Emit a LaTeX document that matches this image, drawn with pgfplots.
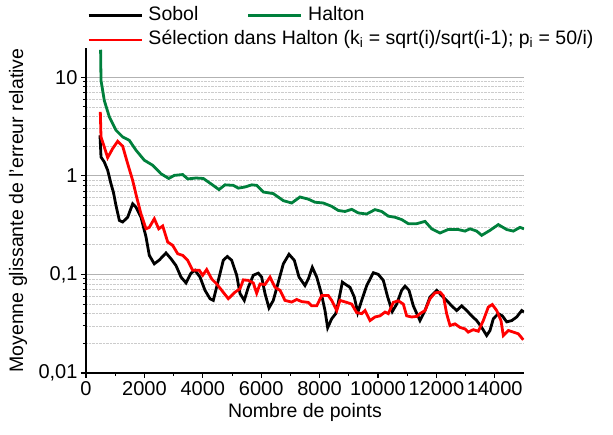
\documentclass[border=0pt]{standalone}
\usepackage{pgfplots}
\pgfplotsset{compat=1.18}
\usepackage{fontspec}
\setmainfont{Liberation Sans}
\definecolor{hgreen}{RGB}{0,128,60}

\begin{document}
\begin{tikzpicture}[font=\fontsize{19.5}{23}\selectfont]
\begin{axis}[
    at={(0,0)}, anchor=south west,
    scale only axis, width=438pt, height=325pt,
    ymode=log,
    xmin=0, xmax=15000, ymin=0.01, ymax=19.8,
    axis x line*=bottom, axis y line*=left,
    axis line style={line width=1.5pt},
    tick align=outside,
    major tick length=5pt, minor tick length=3pt,
    major tick style={line width=1.2pt, black},
    minor tick style={line width=1pt, black},
    tick label style={font=\fontsize{20}{24}\selectfont},
    xtick={0,2000,...,14000}, minor x tick num=1,
    ytick={0.01,0.1,1,10}, yticklabels={{0,01},{0,1},1,10},
    /pgf/number format/assume math mode=true,
    /pgf/number format/1000 sep={},
    scaled x ticks=false,
    ymajorgrids, yminorgrids,
    major grid style={gray!60, line width=0.8pt},
    minor grid style={gray!40, densely dotted, line width=0.7pt},
    xlabel={Nombre de points},
    ylabel={Moyenne glissante de l'erreur relative},
    every axis x label/.style={at={(axis description cs:0.5,0)}, anchor=center, yshift=-39pt},
    every axis y label/.style={at={(axis description cs:0,0.5)}, xshift=-68pt, rotate=90, anchor=center},
    legend columns=2,
    legend cell align=left,
    legend image code/.code={\draw[#1] (0pt,0pt) -- (53pt,0pt);},
    legend style={at={(axis description cs:0,1)}, anchor=south west,
        draw=none, fill=none, inner sep=0pt, xshift=1pt, yshift=-3pt,
        column sep=4pt, row sep=3pt,
        nodes={text height=14pt, text depth=4.5pt, inner sep=1.5pt},
        /tikz/every even column/.append style={column sep=47pt}},
]
\addplot[black, line width=2.8pt] coordinates {
(479,2.58) (514,1.55) (627,1.38) (742,1.14) (856,0.83) (940,0.68) (1027,0.5)
(1142,0.353) (1256,0.34) (1427,0.38) (1598,0.52) (1712,0.48) (1884,0.38)
(2055,0.24) (2168,0.156) (2339,0.128) (2511,0.14) (2740,0.165) (2911,0.144)
(3082,0.123) (3253,0.094) (3425,0.082) (3596,0.103) (3733,0.11) (3904,0.094)
(4075,0.069) (4247,0.0567) (4360,0.0545) (4531,0.087) (4702,0.139) (4839,0.152)
(4990,0.139) (5161,0.098) (5274,0.064) (5421,0.0545) (5558,0.074) (5729,0.098)
(5900,0.103) (6015,0.094) (6130,0.064) (6267,0.0457) (6415,0.0545) (6586,0.0835)
(6758,0.128) (6952,0.16) (7134,0.139) (7295,0.094) (7500,0.077) (7614,0.09)
(7750,0.118) (7901,0.094) (8048,0.066) (8185,0.043) (8276,0.0288) (8414,0.0355)
(8551,0.04) (8642,0.052) (8779,0.0835) (8893,0.079) (9041,0.074) (9188,0.059)
(9305,0.041) (9442,0.0545) (9613,0.077) (9840,0.104) (10011,0.1) (10182,0.087)
(10331,0.059) (10490,0.042) (10640,0.05) (10811,0.069) (10925,0.076) (11062,0.069)
(11209,0.048) (11438,0.034) (11610,0.043) (11781,0.059) (12010,0.069) (12181,0.061)
(12351,0.0545) (12523,0.048) (12695,0.043) (12866,0.048) (13037,0.043) (13208,0.038)
(13380,0.034) (13551,0.029) (13722,0.024) (13836,0.027) (13949,0.0355) (14120,0.04)
(14257,0.038) (14408,0.033) (14579,0.034) (14750,0.037) (14921,0.043) (15000,0.0415)
};
\addlegendentry{Sobol}
\addplot[hgreen, line width=2.8pt] coordinates {
(500,19) (514,9.3) (627,5.8) (800,3.95) (1027,2.9) (1256,2.48) (1483,2.29)
(1712,1.82) (1997,1.44) (2283,1.28) (2568,1.05) (2832,0.94) (3024,1.01) (3311,1.03)
(3483,0.93) (3767,0.95) (4018,0.94) (4304,0.82) (4555,0.725) (4760,0.81) (5045,0.80)
(5217,0.75) (5445,0.77) (5674,0.81) (5845,0.80) (6073,0.685) (6415,0.66) (6758,0.56)
(7044,0.53) (7329,0.61) (7614,0.58) (7842,0.54) (8127,0.53) (8414,0.49) (8642,0.445)
(8870,0.435) (9099,0.457) (9326,0.42) (9612,0.41) (9897,0.454) (10126,0.435)
(10353,0.39) (10582,0.38) (10811,0.36) (11038,0.327) (11325,0.327) (11610,0.345)
(11839,0.29) (12123,0.263) (12408,0.286) (12750,0.285) (12979,0.275) (13150,0.29)
(13380,0.275) (13551,0.249) (13836,0.28) (14120,0.32) (14408,0.285) (14634,0.275)
(14863,0.30) (15000,0.29)
};
\addlegendentry{Halton}
\addplot[red, line width=2.8pt] coordinates {
(490,4.45) (514,2.48) (627,1.96) (742,1.53) (913,1.89) (1085,2.24) (1256,2.0)
(1427,1.33) (1598,0.9) (1740,0.6) (1884,0.41) (2055,0.29) (2168,0.30) (2339,0.367)
(2490,0.29) (2627,0.31) (2798,0.213) (2969,0.197) (3140,0.162) (3311,0.156)
(3483,0.139) (3654,0.11) (3880,0.11) (3996,0.098) (4133,0.112) (4304,0.09)
(4476,0.08) (4647,0.069) (4873,0.0567) (5103,0.066) (5274,0.0716) (5387,0.088)
(5558,0.087) (5729,0.082) (5845,0.0645) (5959,0.08) (6130,0.079) (6301,0.094)
(6473,0.074) (6644,0.069) (6815,0.0545) (7044,0.0524) (7215,0.0557) (7387,0.053)
(7614,0.052) (7730,0.048) (7901,0.048) (8072,0.061) (8298,0.061) (8414,0.0545)
(8586,0.043) (8699,0.0545) (8928,0.052) (9099,0.05) (9270,0.041) (9442,0.04)
(9555,0.043) (9726,0.034) (9897,0.037) (10068,0.038) (10240,0.0415) (10353,0.04)
(10524,0.052) (10696,0.054) (10867,0.05) (10982,0.038) (11153,0.037) (11325,0.0375)
(11438,0.04) (11610,0.043) (11781,0.0567) (11952,0.065) (12123,0.066) (12237,0.061)
(12351,0.04) (12466,0.0303) (12637,0.0315) (12808,0.029) (12979,0.028) (13092,0.026)
(13263,0.0275) (13435,0.0265) (13606,0.034) (13777,0.0466) (13914,0.0495)
(14065,0.043) (14212,0.034) (14292,0.024) (14463,0.027) (14634,0.026) (14805,0.025)
(14976,0.0217)
};
\addlegendentry{\makebox[0pt][l]{Sélection dans Halton (k\textsubscript{i} = sqrt(i)/sqrt(i-1); p\textsubscript{i} = 50/i)}}
\end{axis}
\pgfresetboundingbox
\path[use as bounding box] (-86pt,-62pt) rectangle (527pt,373pt);
\end{tikzpicture}
\end{document}
